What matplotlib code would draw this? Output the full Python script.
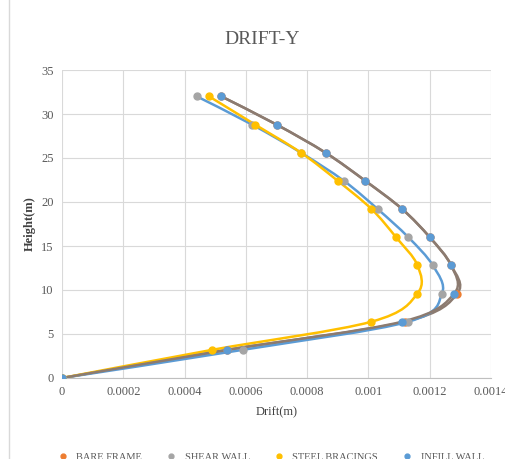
"""
Drift-Y chart: storey drift vs height for four structural systems
"""

import numpy as np
import matplotlib.pyplot as plt
from matplotlib.path import Path
from matplotlib.patches import PathPatch
from matplotlib.lines import Line2D

plt.rcParams['font.family'] = ['Liberation Serif', 'DejaVu Serif']

height = [0, 3.2, 6.4, 9.6, 12.8, 16, 19.2, 22.4, 25.6, 28.8, 32]

bare_frame = [0, 0.00054, 0.00112, 0.00129, 0.00127, 0.00120, 0.00111, 0.00099, 0.00086, 0.00070, 0.00052]
shear_wall = [0, 0.00059, 0.00113, 0.00124, 0.00121, 0.00113, 0.00103, 0.00092, 0.00078, 0.00062, 0.00044]
steel_bracings = [0, 0.00049, 0.00101, 0.00116, 0.00116, 0.00109, 0.00101, 0.00090, 0.00078, 0.00063, 0.00048]
infill_wall = [0, 0.00054, 0.00111, 0.00128, 0.00127, 0.00120, 0.00111, 0.00099, 0.00086, 0.00070, 0.00052]

labels = ['BARE FRAME', 'SHEAR WALL', 'STEEL BRACINGS', 'INFILL WALL']
marker_colors = ['#ED7D31', '#A5A5A5', '#FFC000', '#5B9BD5']
line_colors = ['#8C7B70', '#5B9BD5', '#FFC000', '#8C7B70']


def smooth_path(x, y):
    # Excel-like smoothed line: cubic bezier with catmull-rom control points
    x = np.asarray(x, float)
    y = np.asarray(y, float)
    verts = [(x[0], y[0])]
    codes = [Path.MOVETO]
    n = len(x)
    for i in range(n - 1):
        i0 = max(i - 1, 0)
        i3 = min(i + 2, n - 1)
        c1 = (x[i] + (x[i + 1] - x[i0]) / 6, y[i] + (y[i + 1] - y[i0]) / 6)
        c2 = (x[i + 1] - (x[i3] - x[i]) / 6, y[i + 1] - (y[i3] - y[i]) / 6)
        verts += [c1, c2, (x[i + 1], y[i + 1])]
        codes += [Path.CURVE4] * 3
    return Path(verts, codes)


fig = plt.figure(figsize=(5.05, 4.59), dpi=100)
ax = fig.add_axes([62 / 505, 81 / 459, 429 / 505, 308 / 459])

series = [bare_frame, shear_wall, steel_bracings, infill_wall]
for vals, lc, mc in zip(series, line_colors, marker_colors):
    ax.add_patch(PathPatch(smooth_path(vals, height), fill=False, edgecolor=lc, lw=1.8, zorder=3))
    ax.plot(vals, height, ls='none', marker='o', markersize=5, color=mc, zorder=4)

ax.set_xlim(0, 0.0014)
ax.set_ylim(0, 35)
ax.set_xticks(np.arange(0, 0.00141, 0.0002))
ax.set_xticklabels(['0', '0.0002', '0.0004', '0.0006', '0.0008', '0.001', '0.0012', '0.0014'])
ax.set_yticks(range(0, 36, 5))
ax.grid(True, color='#D9D9D9', lw=0.8)
ax.set_axisbelow(True)
for s in ['top', 'right', 'left']:
    ax.spines[s].set_visible(False)
ax.spines['bottom'].set_color('#BFBFBF')
ax.tick_params(length=0, colors='#595959', labelsize=9, pad=6)

ax.set_xlabel('Drift(m)', fontsize=9, color='#404040', labelpad=6)
ax.set_ylabel('Height(m)', fontsize=9, fontweight='bold', color='#404040', labelpad=4)
fig.text(262 / 505, 1 - 40 / 459, 'DRIFT-Y', ha='center', va='center', fontsize=14, color='#595959')

handles = [Line2D([], [], color=c, marker='o', markersize=3.5, ls='none') for c in marker_colors]
fig.legend(handles, labels, loc='center', bbox_to_anchor=(0.535, 2 / 459), ncol=4, frameon=False,
           fontsize=7.5, labelcolor='#595959', handlelength=1.2, handletextpad=0.7, columnspacing=2.2)

fig.add_artist(Line2D([9 / 505, 9 / 505], [0, 1], color='#D9D9D9', lw=1))

fig.savefig('out.png', dpi=100)
